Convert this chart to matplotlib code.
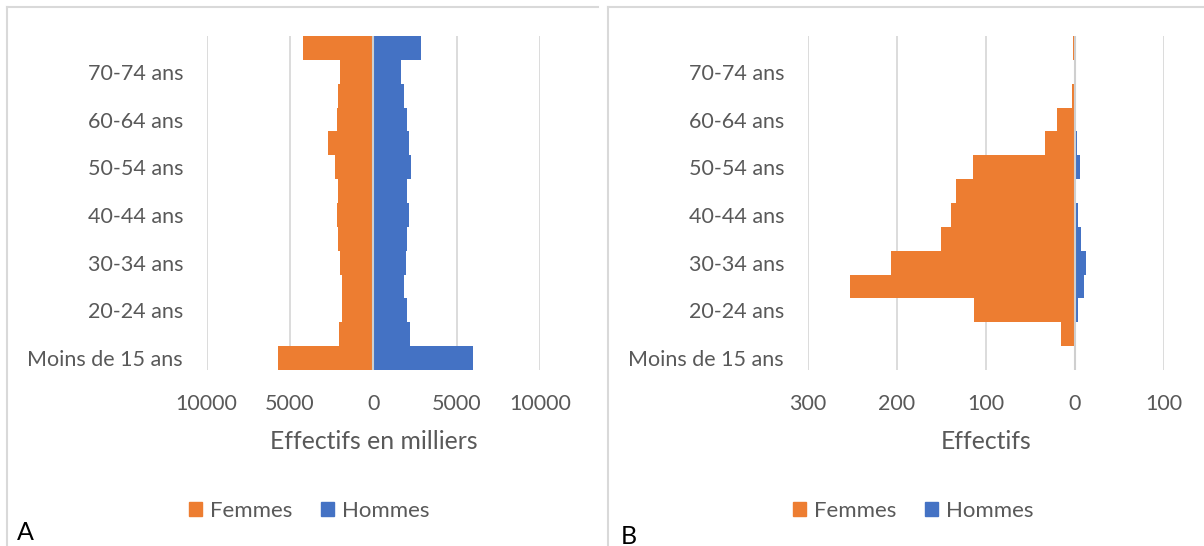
import matplotlib
matplotlib.use('Agg')
import matplotlib.pyplot as plt
import numpy as np
from matplotlib.patches import Patch
from matplotlib.lines import Line2D

plt.rcParams['font.family'] = ['Lato', 'DejaVu Sans']

# tranches d'age, du bas vers le haut de la pyramide
ages = ['Moins de 15 ans', '15-19 ans', '20-24 ans', '25-29 ans', '30-34 ans',
        '35-39 ans', '40-44 ans', '45-49 ans', '50-54 ans', '55-59 ans',
        '60-64 ans', '65-69 ans', '70-74 ans', '75 ans et plus']

# A : population (milliers)
femmes_a = [5700, 2080, 1900, 1900, 2020, 2140, 2200, 2100, 2280, 2700, 2200, 2100, 2000, 4220]
hommes_a = [5960, 2200, 2020, 1860, 1960, 2040, 2120, 2040, 2240, 2120, 2020, 1820, 1660, 2880]

# B : effectifs
femmes_b = [0, 16, 113, 253, 206, 150, 139, 134, 114, 34, 20, 3, 0, 2]
hommes_b = [0, 0, 3, 10, 12, 7, 4, 1, 6, 2, 1, 0, 0, 0]

ticks_a = [-10000, -5000, 0, 5000, 10000]
ticks_b = [-300, -200, -100, 0, 100]

orange = '#ED7D31'
bleu = '#4472C4'
gris = '#595959'
grille = '#D9D9D9'

W, H = 1204, 546
fig = plt.figure(figsize=(W / 100, H / 100), dpi=100)


def pyramide(rect, femmes, hommes, ticks, titre):
    ax = fig.add_axes(rect)
    y = np.arange(len(ages))
    ax.barh(y, -np.array(femmes), height=1.0, color=orange, label='Femmes', zorder=2)
    ax.barh(y, hommes, height=1.0, color=bleu, label='Hommes', zorder=2)
    ax.axvline(0, color='#CFCFCF', lw=1.5, zorder=3)
    ax.set_xlim(ticks[0], ticks[-1])
    ax.set_ylim(-0.5, len(ages) - 0.5)
    ax.set_xticks(ticks)
    ax.set_xticklabels([str(abs(t)) for t in ticks])
    ax.set_yticks(y[::2])
    ax.set_yticklabels(ages[::2], va='center_baseline')
    ax.grid(axis='x', color=grille, lw=1.3, zorder=0)
    for s in ax.spines.values():
        s.set_visible(False)
    ax.tick_params(length=0, labelsize=15.5, labelcolor=gris)
    ax.tick_params(axis='x', pad=17.5)
    ax.tick_params(axis='y', pad=17)
    ax.set_xlabel(titre, fontsize=17.8, color=gris, labelpad=11)
    return ax


ax_a = pyramide([206.7 / W, 176 / H, 333.3 / W, 334 / H], femmes_a, hommes_a, ticks_a,
                'Effectifs en milliers')
ax_b = pyramide([807.7 / W, 176 / H, 356.3 / W, 334 / H], femmes_b, hommes_b, ticks_b,
                'Effectifs')

handles = [Patch(color=orange, label='Femmes'), Patch(color=bleu, label='Hommes')]
for cx in (309, 913):
    fig.legend(handles=handles, loc='center', bbox_to_anchor=(cx / W, 1 - 511 / H),
               ncol=2, frameon=False, fontsize=16.0, labelcolor=gris,
               handlelength=0.6, handleheight=0.6, handletextpad=0.33,
               columnspacing=1.3)

# cadres des deux graphiques
bord = dict(color=grille, lw=1.5, transform=fig.transFigure)
fig.add_artist(Line2D([7 / W, 7 / W], [0, 1 - 7 / H], **bord))
fig.add_artist(Line2D([7 / W, 598 / W], [1 - 7 / H, 1 - 7 / H], **bord))
fig.add_artist(Line2D([608 / W, 608 / W], [0, 1 - 7 / H], **bord))
fig.add_artist(Line2D([608 / W, 1], [1 - 7 / H, 1 - 7 / H], **bord))

fig.text(17 / W, 1 - 532 / H, 'A', fontsize=18, color='black', va='center', ha='left')
fig.text(621 / W, 1 - 536 / H, 'B', fontsize=18, color='black', va='center', ha='left')

fig.savefig('out.png', dpi=100, facecolor='white')
